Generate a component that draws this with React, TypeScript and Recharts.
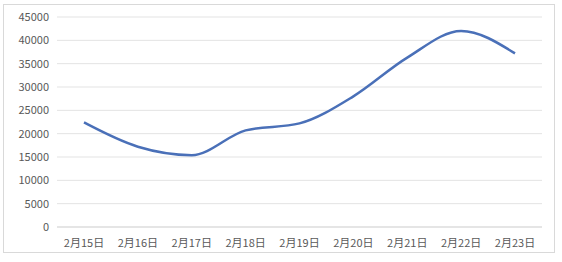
import { LineChart, Line, XAxis, YAxis, CartesianGrid } from 'recharts'

const dates = ['2月15日', '2月16日', '2月17日', '2月18日', '2月19日', '2月20日', '2月21日', '2月22日', '2月23日']
const values = [22400, 17200, 15400, 20700, 22200, 28000, 36300, 42000, 37200]
const yTicks = [0, 5000, 10000, 15000, 20000, 25000, 30000, 35000, 40000, 45000]

const data = dates.map((d, i) => ({ date: d, value: values[i] }))

const tickStyle = { fontSize: 11, fill: '#595959', fontFamily: '"Noto Sans CJK SC", "Noto Sans", sans-serif' }

export default function App() {
  return (
    <div
      style={{
        position: 'absolute',
        left: 3,
        top: 4,
        width: 550,
        height: 247,
        border: '1px solid #d9d9d9',
        background: '#fff',
      }}
    >
      <LineChart width={550} height={247} data={data} margin={{ top: 12, right: 12, bottom: 0, left: 0 }}>
        <CartesianGrid vertical={false} stroke="#e3e3e3" />
        <XAxis
          dataKey="date"
          tick={tickStyle}
          tickLine={false}
          stroke="#d9d9d9"
          height={25}
          tickMargin={6}
          padding={{ left: 27, right: 27 }}
          interval={0}
        />
        <YAxis
          domain={[0, 45000]}
          ticks={yTicks}
          tick={tickStyle}
          tickLine={false}
          axisLine={false}
          width={53}
          interval={0}
        />
        <Line
          type="monotone"
          dataKey="value"
          stroke="#4a70b8"
          strokeWidth={2.5}
          dot={false}
          isAnimationActive={false}
        />
      </LineChart>
    </div>
  )
}
